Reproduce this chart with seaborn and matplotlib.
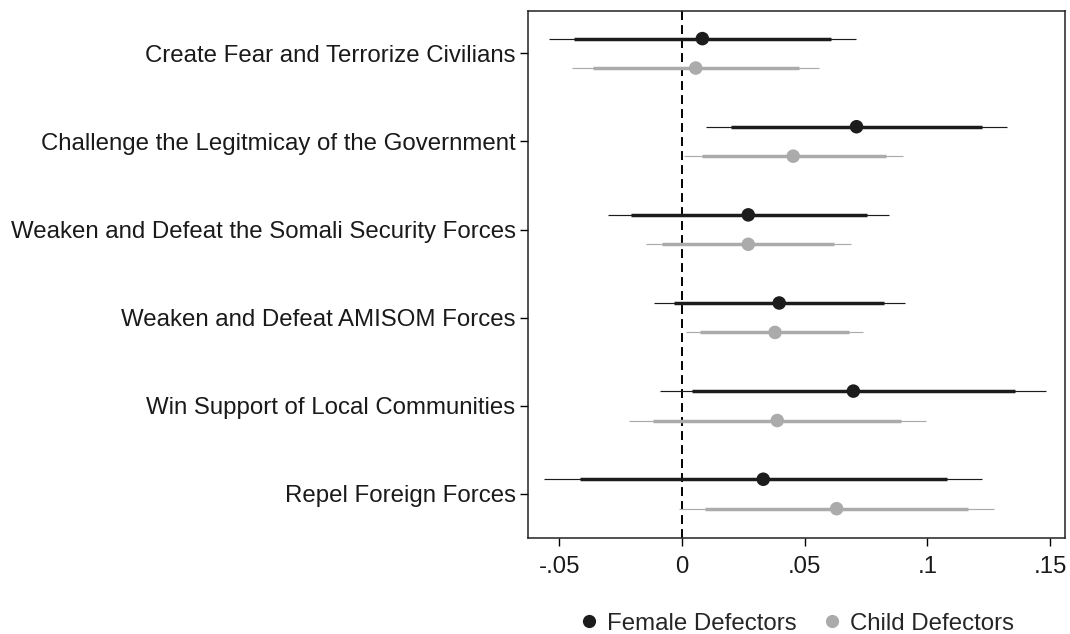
import numpy as np
import pandas as pd
import matplotlib
matplotlib.use("Agg")
import matplotlib.pyplot as plt
from matplotlib.lines import Line2D
import seaborn as sns

# Strategy labels (top to bottom)
strategies = [
    "Create Fear and Terrorize Civilians",
    "Challenge the Legitmicay of the Government",
    "Weaken and Defeat the Somali Security Forces",
    "Weaken and Defeat AMISOM Forces",
    "Win Support of Local Communities",
    "Repel Foreign Forces",
]
groups = ["Female Defectors", "Child Defectors"]

# Point estimates
female_est = [0.0083, 0.0711, 0.0270, 0.0396, 0.0698, 0.0331]
child_est = [0.0056, 0.0453, 0.0270, 0.0379, 0.0388, 0.0630]

# 90% confidence bounds
female_lo90 = [-0.0438, 0.0200, -0.0208, -0.0031, 0.0041, -0.0415]
female_hi90 = [0.0605, 0.1222, 0.0752, 0.0824, 0.1355, 0.1078]
child_lo90 = [-0.0364, 0.0081, -0.0080, 0.0075, -0.0117, 0.0094]
child_hi90 = [0.0476, 0.0829, 0.0620, 0.0680, 0.0894, 0.1166]

# 95% confidence bounds
female_lo95 = [-0.0540, 0.0098, -0.0303, -0.0115, -0.0088, -0.0562]
female_hi95 = [0.0707, 0.1324, 0.0844, 0.0908, 0.1484, 0.1224]
child_lo95 = [-0.0447, 0.0008, -0.0148, 0.0018, -0.0216, -0.0011]
child_hi95 = [0.0558, 0.0901, 0.0688, 0.0738, 0.0994, 0.1271]

xticks = [-0.05, 0, 0.05, 0.1, 0.15]
xtick_labels = ["-.05", "0", ".05", ".1", ".15"]

sns.set_theme(style="white")
plt.rcParams["font.family"] = ["Liberation Sans", "DejaVu Sans"]

colors = {"Female Defectors": "#1c1c1c", "Child Defectors": "#ababab"}
offsets = {"Female Defectors": -0.167, "Child Defectors": 0.167}

rows = []
for g, est, l90, h90, l95, h95 in [
    ("Female Defectors", female_est, female_lo90, female_hi90, female_lo95, female_hi95),
    ("Child Defectors", child_est, child_lo90, child_hi90, child_lo95, child_hi95),
]:
    for i, s in enumerate(strategies):
        rows.append(dict(strategy=s, group=g, pos=i + offsets[g], est=est[i],
                         lo90=l90[i], hi90=h90[i], lo95=l95[i], hi95=h95[i]))
df = pd.DataFrame(rows)

fig = plt.figure(figsize=(10.7, 6.34), dpi=100)
ax = fig.add_axes([0.4935, 0.1514, 0.5018, 0.8312])

ax.axvline(0, color="black", lw=1.4, ls=(0, (4.6, 2.6)), zorder=1)

for g in groups:
    d = df[df["group"] == g]
    ax.hlines(d["pos"], d["lo95"], d["hi95"], color=colors[g], lw=0.85, zorder=2)
    ax.hlines(d["pos"], d["lo90"], d["hi90"], color=colors[g], lw=2.5, zorder=3)

sns.scatterplot(data=df, x="est", y="pos", hue="group", palette=colors,
                s=95, edgecolor="none", legend=False, ax=ax, zorder=4)

ax.set_xlim(-0.0627, 0.156)
ax.set_ylim(5.5, -0.48)
ax.set_xticks(xticks)
ax.set_xticklabels(xtick_labels)
ax.set_yticks(range(len(strategies)))
ax.set_yticklabels(strategies)
ax.set_xlabel("")
ax.set_ylabel("")
ax.tick_params(axis="both", which="major", direction="out", length=6,
               width=1, color="black", labelsize=17.3, labelcolor="#1a1a1a",
               left=True, bottom=True)
ax.tick_params(axis="y", pad=3)
ax.tick_params(axis="x", pad=7)
for sp in ax.spines.values():
    sp.set_visible(True)
    sp.set_color("#222222")
    sp.set_linewidth(1.1)

handles = [Line2D([], [], ls="none", marker="o", markersize=9.5,
                  markerfacecolor=colors[g], markeredgecolor="none", label=g)
           for g in groups]
fig.legend(handles=handles, loc="center", bbox_to_anchor=(0.7435, 0.016),
           ncol=2, frameon=False, fontsize=17.3, handletextpad=0.25,
           columnspacing=1.0, handlelength=1.0)

fig.savefig("out.png", dpi=100)
